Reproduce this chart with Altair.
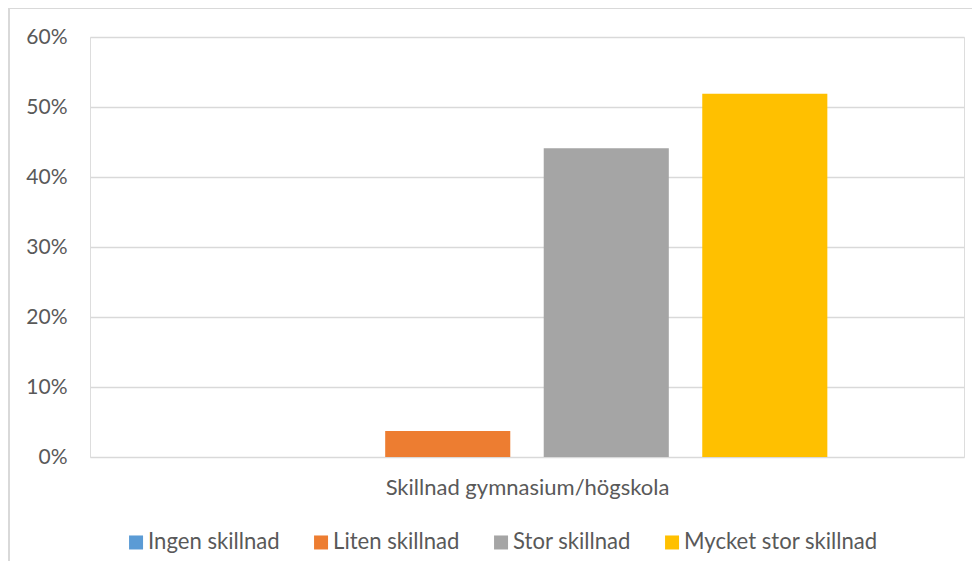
import altair as alt
import pandas as pd

series = ["Ingen skillnad", "Liten skillnad", "Stor skillnad", "Mycket stor skillnad"]
values = [0.0, 0.037, 0.441, 0.519]
colors = ["#5B9BD5", "#ED7D31", "#A5A5A5", "#FFC000"]
category = "Skillnad gymnasium/högskola"
y_ticks = [0, 0.1, 0.2, 0.3, 0.4, 0.5, 0.6]

df = pd.DataFrame({"serie": series, "value": values})

FONT = "Lato"
TXT = "#595959"

bars = alt.Chart(df).mark_bar().encode(
    x=alt.X("serie:N", sort=series,
            scale=alt.Scale(paddingInner=0.211, paddingOuter=0.862),
            axis=alt.Axis(labels=False, ticks=False, domain=False, title=category,
                          titleFont=FONT, titleFontSize=22, titleFontWeight="normal",
                          titleColor=TXT, titlePadding=20)),
    y=alt.Y("value:Q", scale=alt.Scale(domain=[0, 0.6]),
            axis=alt.Axis(values=y_ticks, format=".0%", ticks=False, domain=False,
                          title=None, labelFont=FONT, labelFontSize=21, labelColor=TXT,
                          labelPadding=23, gridColor="#D9D9D9", gridWidth=1.5)),
    color=alt.Color("serie:N", sort=series,
                    scale=alt.Scale(domain=series, range=colors),
                    legend=alt.Legend(orient="none", legendX=35, legendY=494,
                                      direction="horizontal", title=None,
                                      symbolType="square", symbolSize=196,
                                      symbolStrokeWidth=0, labelFont=FONT,
                                      labelFontSize=22.1, labelColor=TXT,
                                      labelLimit=0,
                                      labelOffset=1, columnPadding=30)),
)

frame_top = alt.Chart(df).mark_rule(color="#D9D9D9", strokeWidth=1.5).encode(
    x=alt.value(-81), x2=alt.value(900), y=alt.value(-29)
)
frame_left = alt.Chart(df).mark_rule(color="#D9D9D9", strokeWidth=1.5).encode(
    x=alt.value(-81), y=alt.value(-29), y2=alt.value(600)
)

chart = alt.layer(bars, frame_top, frame_left).properties(
    width=874, height=420,
    autosize=alt.AutoSizeParams(type="none"),
    padding={"left": 82, "top": 29, "right": 8, "bottom": 104},
).configure_view(stroke=None).configure(background="white")

chart.save("out.html", embed_options={"renderer": "svg", "actions": False})
